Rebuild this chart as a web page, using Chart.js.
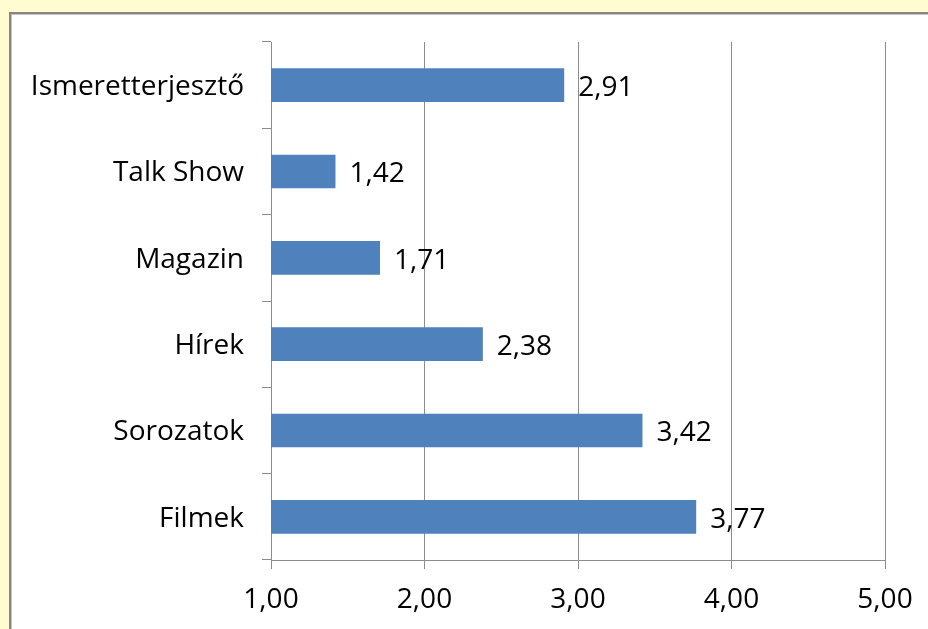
<!DOCTYPE html>
<html>
<head>
<meta charset="utf-8">
<script src="https://cdn.jsdelivr.net/npm/chart.js@4"></script>
<style>
  html, body { margin: 0; padding: 0; width: 928px; height: 629px; overflow: hidden; background: #FFFCD2; }
  #frame { position: absolute; left: 9px; top: 12px; width: 940px; height: 640px; background: #fff;
           border-left: 2px solid #858585; border-top: 2px solid #858585; box-shadow: inset 1px 1px 0 #c4c4c4; }
  #wrap { position: absolute; left: 0; top: 0; width: 928px; height: 629px; }
</style>
</head>
<body>
<div id="frame"></div>
<div id="wrap"><canvas id="c" width="928" height="629"></canvas></div>
<script>
const categories = ["Ismeretterjesztő", "Talk Show", "Magazin", "Hírek", "Sorozatok", "Filmek"];
const values = [2.91, 1.42, 1.71, 2.38, 3.42, 3.77];
const xTicks = [1, 2, 3, 4, 5];

const FONT = "'Open Sans', Lato, sans-serif";
const FSIZE = 28;
const fmt = v => v.toFixed(2).replace('.', ',');

const labelPlugin = {
  id: 'barLabels',
  afterDatasetsDraw(chart) {
    const ctx = chart.ctx;
    const meta = chart.getDatasetMeta(0);
    ctx.save();
    ctx.font = FSIZE + "px " + FONT;
    ctx.fillStyle = "#000";
    ctx.textAlign = "left";
    ctx.textBaseline = "middle";
    meta.data.forEach((bar, i) => {
      ctx.fillText(fmt(values[i]), bar.x + 14, bar.y + 3);
    });
    ctx.restore();
  }
};

new Chart(document.getElementById('c'), {
  type: 'bar',
  data: {
    labels: categories,
    datasets: [{
      data: values,
      backgroundColor: '#4F81BD',
      borderWidth: 0,
      barPercentage: 0.39,
      categoryPercentage: 1
    }]
  },
  options: {
    indexAxis: 'y',
    responsive: false,
    animation: false,
    devicePixelRatio: 1,
    layout: { padding: { left: 0, right: 43, top: 42, bottom: 0 } },
    plugins: { legend: { display: false }, tooltip: { enabled: false } },
    scales: {
      x: {
        min: 1, max: 5,
        afterBuildTicks: (s) => { s.ticks = xTicks.map(v => ({ value: v })); },
        afterFit: (s) => { s.height = 69; },
        ticks: { callback: v => fmt(v), color: '#000', font: { family: FONT, size: FSIZE }, padding: 14, maxRotation: 0 },
        grid: { color: '#8c8c8c', lineWidth: 1, tickLength: 9, drawOnChartArea: true },
        border: { display: true, color: '#8c8c8c' }
      },
      y: {
        afterFit: (s) => { s.width = 271; },
        ticks: { color: '#000', font: { family: FONT, size: FSIZE }, padding: 18, labelOffset: 2 },
        grid: { offset: true, drawOnChartArea: false, tickLength: 9, color: '#8c8c8c' },
        border: { display: true, color: '#8c8c8c' }
      }
    }
  },
  plugins: [labelPlugin]
});
</script>
</body>
</html>
